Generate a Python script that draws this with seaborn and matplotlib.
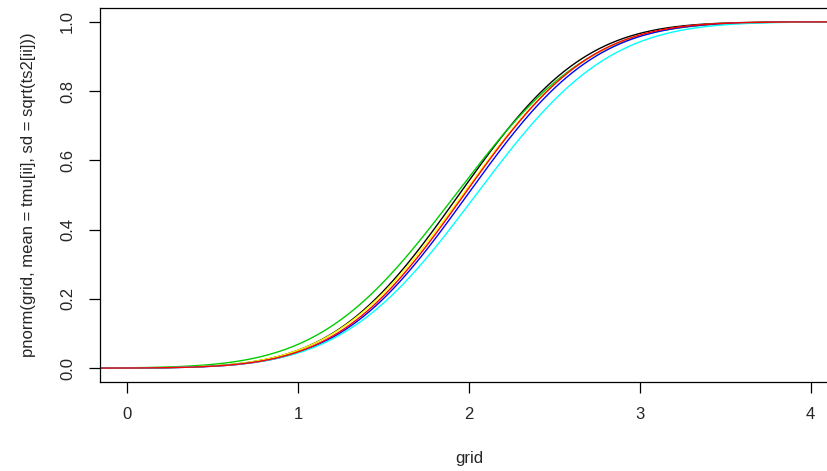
import math
import numpy as np
import pandas as pd
import matplotlib
matplotlib.use('Agg')
import matplotlib.pyplot as plt
import seaborn as sns

# parameters of the normal curves
curve_ids = ['c1', 'c2', 'c3', 'c4', 'c5', 'c6']
curve_colors = ['black', '#00CD00', 'yellow', 'blue', 'cyan', 'red']
tmu = [1.94, 1.92, 1.96, 1.99, 2.04, 1.97]
tsd = [0.578, 0.62, 0.59, 0.585, 0.61, 0.58]
ts2 = [s ** 2 for s in tsd]

x_ticks = [0, 1, 2, 3, 4]
y_ticks = [0.0, 0.2, 0.4, 0.6, 0.8, 1.0]
y_tick_labels = ['0.0', '0.2', '0.4', '0.6', '0.8', '1.0']

grid = np.linspace(-0.3, 4.3, 400)


def pnorm(x, mean, sd):
    return np.array([0.5 * (1 + math.erf((v - mean) / (sd * math.sqrt(2)))) for v in x])


rows = []
for ii, cid in enumerate(curve_ids):
    rows.append(pd.DataFrame({
        'grid': grid,
        'p': pnorm(grid, tmu[ii], math.sqrt(ts2[ii])),
        'curve': cid,
    }))
df = pd.concat(rows, ignore_index=True)

sns.set_style('white')
plt.rcParams['font.family'] = ['Liberation Sans', 'DejaVu Sans']

fig = plt.figure(figsize=(8.27, 4.71), dpi=100)
# right side of the plot box runs past the figure edge (cropped like the reference)
ax = fig.add_axes([100 / 827, 89 / 471, 738 / 827, 374 / 471])

sns.lineplot(data=df, x='grid', y='p', hue='curve', palette=dict(zip(curve_ids, curve_colors)),
             hue_order=curve_ids, linewidth=1.0, legend=False, ax=ax, estimator=None, sort=False)

ax.set_xlim(-0.16, 4.16)
ax.set_ylim(-0.04, 1.04)
ax.set_xticks(x_ticks)
ax.set_xticklabels([str(t) for t in x_ticks], fontsize=12)
ax.set_yticks(y_ticks)
ax.set_yticklabels(y_tick_labels, fontsize=12, rotation=90, va='center')
ax.tick_params(axis='both', direction='out', length=8, width=0.9, color='black', pad=10)
ax.tick_params(axis='both', bottom=True, left=True)
for s in ax.spines.values():
    s.set_color('black')
    s.set_linewidth(0.9)

ax.set_xlabel('grid', fontsize=12, labelpad=21)
ax.set_ylabel('pnorm(grid, mean = tmu[ii], sd = sqrt(ts2[ii]))', fontsize=12, labelpad=17)

fig.savefig('out.png', dpi=100, facecolor='white')
